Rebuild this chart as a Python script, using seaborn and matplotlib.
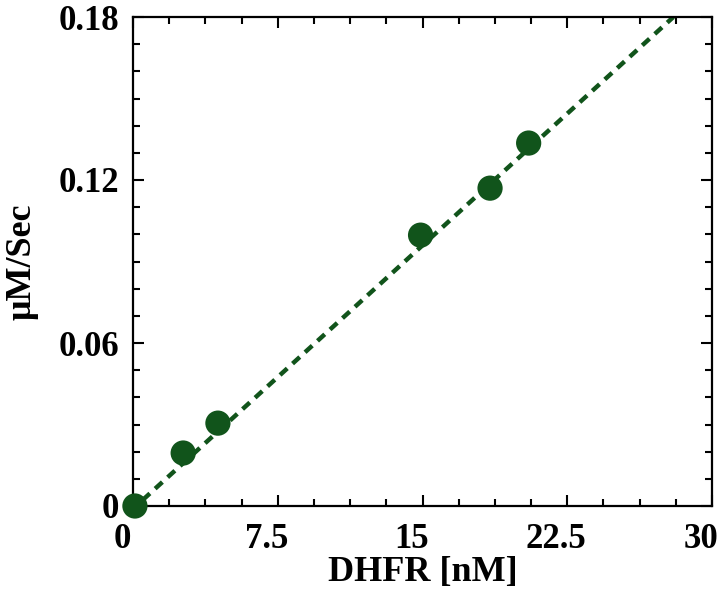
import numpy as np
import pandas as pd
import seaborn as sns
from matplotlib import pyplot as plt
from matplotlib.ticker import MultipleLocator, FixedLocator
from matplotlib.transforms import ScaledTranslation

# measured rates vs enzyme concentration
dhfr_nM = [0.1, 2.6, 4.4, 14.9, 18.5, 20.5]
rate = [0.0, 0.0195, 0.0305, 0.0997, 0.117, 0.1336]
# linear fit line endpoints
fit_x = [0.5, 28.0]
fit_y = [0.0022, 0.18]

green = '#11541b'

sns.set_style('ticks')
plt.rcParams['font.family'] = ['Liberation Serif', 'DejaVu Serif']
plt.rcParams['font.weight'] = 'bold'

fig = plt.figure(figsize=(7.22, 6.03), dpi=100)
ax = fig.add_axes([133/722, 1 - 506/603, (712 - 133)/722, (506 - 17)/603])

pts = pd.DataFrame({'x': dhfr_nM, 'y': rate})
fit = pd.DataFrame({'x': fit_x, 'y': fit_y})
sns.lineplot(data=fit, x='x', y='y', ax=ax, color=green, lw=3.2,
             dashes=False, zorder=2).lines[0].set_dashes((2.2, 1.6))
sns.scatterplot(data=pts, x='x', y='y', ax=ax, color=green, s=330,
                edgecolor='none', zorder=3, clip_on=False)

ax.set_xlim(0, 30)
ax.set_ylim(0, 0.18)
ax.xaxis.set_major_locator(FixedLocator([0, 7.5, 15, 22.5, 30]))
ax.xaxis.set_minor_locator(MultipleLocator(1.875))
ax.yaxis.set_major_locator(FixedLocator([0, 0.06, 0.12, 0.18]))
ax.yaxis.set_minor_locator(MultipleLocator(0.01))
ax.set_xticklabels(['0', '7.5', '15', '22.5', '30'])
ax.set_yticklabels(['0', '0.06', '0.12', '0.18'])
ax.tick_params(which='both', direction='in', top=True, right=True,
               width=1.5, labelsize=25, colors='black')
ax.tick_params(axis='x', pad=12)
ax.tick_params(axis='y', pad=10)
ax.tick_params(which='major', length=8)
ax.tick_params(which='minor', length=5)
for s in ax.spines.values():
    s.set_linewidth(1.6)
    s.set_color('black')

# x tick labels sit a little left of their ticks in the original
shift = ScaledTranslation(-11/100, 0, fig.dpi_scale_trans)
for lab in ax.get_xticklabels():
    lab.set_transform(lab.get_transform() + shift)

ax.set_xlabel('DHFR [nM]', fontsize=26, fontweight='bold', labelpad=0,
              color='black')
ax.set_ylabel('μM/Sec', fontsize=26, fontweight='bold', labelpad=14,
              color='black')

fig.savefig('out.png', dpi=100)
